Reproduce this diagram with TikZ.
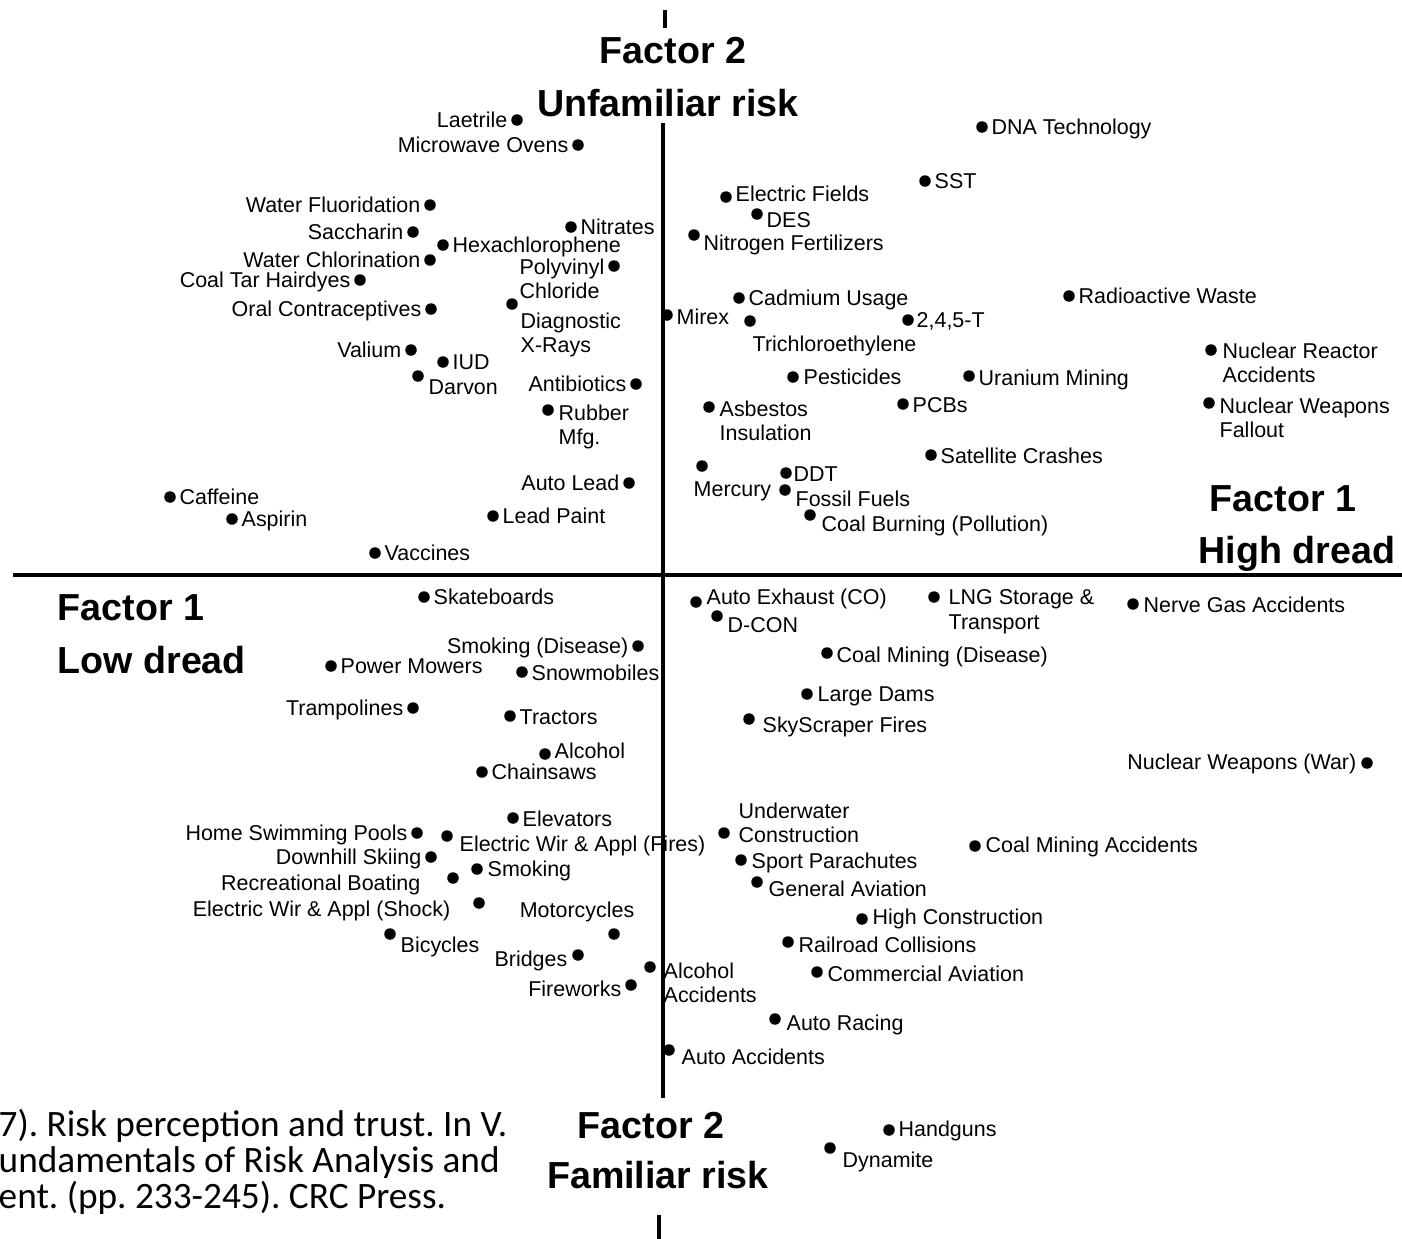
\documentclass[tikz,border=0pt]{standalone}
\usepackage{fontspec}
\setmainfont{Liberation Sans}
\newfontfamily\citefont{Carlito}
\usetikzlibrary{positioning}
\tikzset{
  dot/.style={circle, fill=black, inner sep=0pt, minimum size=1.15mm},
  lbl/.style={font=\fontsize{6.1}{7}\selectfont, inner sep=0pt, text height=1.55mm, text depth=0mm},
  lbltwo/.style={font=\fontsize{6.1}{7}\selectfont, inner sep=0pt, align=left},
  factor/.style={font=\fontsize{10.7}{12}\selectfont\bfseries, inner sep=0pt, text height=2.7mm, text depth=0mm},
  axis/.style={draw=black, line width=0.9pt}
}
\begin{document}
\frenchspacing
\begin{tikzpicture}[x=0.01cm, y=-0.01cm]
\useasboundingbox (0,0) rectangle (1402,1239);
% axes
\coordinate (W) at (13,575); \coordinate (E) at (1402,575);
\coordinate (N) at (663,123); \coordinate (S) at (663,1098);
\coordinate (N1) at (665,10); \coordinate (N2) at (665,28);
\coordinate (S1) at (659,1215); \coordinate (S2) at (659,1239);
\draw [axis] (W)--(E);
\draw [axis] (N)--(S);
\draw [axis] (N1)--(N2);
\draw [axis] (S1)--(S2);
% factor titles
\draw (673,50) node[factor](F2T){Factor 2}
(668,103) node[factor](UR){Unfamiliar risk}
(651,1125) node[factor](F2B){Factor 2}
(658,1175) node[factor](FR){Familiar risk}
(57,607) node[factor, anchor=west](F1L){Factor 1}
(57,660) node[factor, anchor=west](LD1){Low dread}
(1209,498) node[factor, anchor=west](F1R){Factor 1}
(1198,550) node[factor, anchor=west](HD){High dread};
% unfamiliar, low dread
\draw (517,120) node[dot](LA){} (508,120) node[lbl, anchor=east](LAt){Laetrile};
\draw (578,145) node[dot](MO){} (569,145) node[lbl, anchor=east](MOt){Microwave Ovens};
\draw (430,205) node[dot](WF){} (421,205) node[lbl, anchor=east](WFt){Water Fluoridation};
\draw (413,232) node[dot](SA){} (404,232) node[lbl, anchor=east](SAt){Saccharin};
\draw (443,245) node[dot](HX){} (452,245) node[lbl, anchor=west](HXt){Hexachlorophene};
\draw (430,260) node[dot](WC){} (421,260) node[lbl, anchor=east](WCt){Water Chlorination};
\draw (360,280) node[dot](CT){} (351,280) node[lbl, anchor=east](CTt){Coal Tar Hairdyes};
\draw (431,309) node[dot](OC){} (422,309) node[lbl, anchor=east](OCt){Oral Contraceptives};
\draw (571,227) node[dot](NI){} (580,227) node[lbl, anchor=west](NIt){Nitrates};
\draw (614,266) node[dot](PC){} (605,258) node[lbltwo, anchor=north east](PCt){Polyvinyl\\Chloride};
\draw (512,304) node[dot](DX){} (520,312) node[lbltwo, anchor=north west](DXt){Diagnostic\\X-Rays};
\draw (411,350) node[dot](VA){} (402,350) node[lbl, anchor=east](VAt){Valium};
\draw (443,362) node[dot](IU){} (452,362) node[lbl, anchor=west](IUt){IUD};
\draw (418,376) node[dot](DA){} (428,387) node[lbl, anchor=west](DAt){Darvon};
\draw (636,384) node[dot](AN){} (627,384) node[lbl, anchor=east](ANt){Antibiotics};
\draw (548,410) node[dot](RM){} (558,404) node[lbltwo, anchor=north west](RMt){Rubber\\Mfg.};
\draw (629,483) node[dot](AL){} (620,483) node[lbl, anchor=east](ALt){Auto Lead};
\draw (493,516) node[dot](LP){} (502,516) node[lbl, anchor=west](LPt){Lead Paint};
\draw (170,497) node[dot](CA){} (179,497) node[lbl, anchor=west](CAt){Caffeine};
\draw (232,519) node[dot](AS){} (241,519) node[lbl, anchor=west](ASt){Aspirin};
\draw (375,553) node[dot](VC){} (384,553) node[lbl, anchor=west](VCt){Vaccines};
% unfamiliar, high dread
\draw (982,127) node[dot](DN){} (991,127) node[lbl, anchor=west](DNt){DNA Technology};
\draw (925,181) node[dot](ST){} (934,181) node[lbl, anchor=west](STt){SST};
\draw (726,197) node[dot](EF){} (735,194) node[lbl, anchor=west](EFt){Electric Fields};
\draw (757,214) node[dot](DE){} (766,220) node[lbl, anchor=west](DEt){DES};
\draw (694,235) node[dot](NF){} (703,243) node[lbl, anchor=west](NFt){Nitrogen Fertilizers};
\draw (739,298) node[dot](CU){} (748,298) node[lbl, anchor=west](CUt){Cadmium Usage};
\draw (667,315) node[dot](MI){} (676,317) node[lbl, anchor=west](MIt){Mirex};
\draw (750,321) node[dot](TC){} (752,344) node[lbl, anchor=west](TCt){Trichloroethylene};
\draw (908,320) node[dot](TT){} (916,320) node[lbl, anchor=west](TTt){2,4,5-T};
\draw (1069,296) node[dot](RW){} (1078,296) node[lbl, anchor=west](RWt){Radioactive Waste};
\draw (1211,350) node[dot](NR){} (1222,342) node[lbltwo, anchor=north west](NRt){Nuclear Reactor\\Accidents};
\draw (793,377) node[dot](PE){} (803,377) node[lbl, anchor=west](PEt){Pesticides};
\draw (969,376) node[dot](UM){} (978,378) node[lbl, anchor=west](UMt){Uranium Mining};
\draw (709,407) node[dot](AB){} (719,400) node[lbltwo, anchor=north west](ABt){Asbestos\\Insulation};
\draw (903,404) node[dot](PB){} (912,405) node[lbl, anchor=west](PBt){PCBs};
\draw (1209,403) node[dot](NW){} (1219,397) node[lbltwo, anchor=north west](NWt){Nuclear Weapons\\Fallout};
\draw (931,455) node[dot](SC){} (940,456) node[lbl, anchor=west](SCt){Satellite Crashes};
\draw (702,466) node[dot](ME){} (693,489) node[lbl, anchor=west](MEt){Mercury};
\draw (786,473) node[dot](DD){} (793,474) node[lbl, anchor=west](DDt){DDT};
\draw (785,490) node[dot](FF){} (795,499) node[lbl, anchor=west](FFt){Fossil Fuels};
\draw (810,515) node[dot](CB){} (821,524) node[lbl, anchor=west](CBt){Coal Burning (Pollution)};
% familiar, low dread
\draw (424,597) node[dot](SK){} (433,597) node[lbl, anchor=west](SKt){Skateboards};
\draw (638,646) node[dot](SD){} (629,646) node[lbl, anchor=east](SDt){Smoking (Disease)};
\draw (331,666) node[dot](PM){} (340,666) node[lbl, anchor=west](PMt){Power Mowers};
\draw (522,672) node[dot](SN){} (531,673) node[lbl, anchor=west](SNt){Snowmobiles};
\draw (413,708) node[dot](TR){} (404,708) node[lbl, anchor=east](TRt){Trampolines};
\draw (510,716) node[dot](TA){} (519,717) node[lbl, anchor=west](TAt){Tractors};
\draw (545,754) node[dot](AC){} (554,751) node[lbl, anchor=west](ACt){Alcohol};
\draw (482,772) node[dot](CH){} (491,772) node[lbl, anchor=west](CHt){Chainsaws};
\draw (513,818) node[dot](EL){} (522,819) node[lbl, anchor=west](ELt){Elevators};
\draw (417,833) node[dot](HS){} (408,833) node[lbl, anchor=east](HSt){Home Swimming Pools};
\draw (447,836) node[dot](EW){} (459,844) node[lbl, anchor=west](EWt){Electric Wir \& Appl (Fires)};
\draw (431,857) node[dot](DS){} (422,857) node[lbl, anchor=east](DSt){Downhill Skiing};
\draw (477,869) node[dot](SM){} (487,869) node[lbl, anchor=west](SMt){Smoking};
\draw (453,878) node[dot](RB){} (421,883) node[lbl, anchor=east](RBt){Recreational Boating};
\draw (479,903) node[dot](ES){} (451,909) node[lbl, anchor=east](ESt){Electric Wir \& Appl (Shock)};
\draw (614,934) node[dot](MC){} (635,910) node[lbl, anchor=east](MCt){Motorcycles};
\draw (390,934) node[dot](BI){} (400,945) node[lbl, anchor=west](BIt){Bicycles};
\draw (578,955) node[dot](BR){} (568,959) node[lbl, anchor=east](BRt){Bridges};
\draw (631,985) node[dot](FW){} (622,989) node[lbl, anchor=east](FWt){Fireworks};
\draw (650,967) node[dot](AA){} (663,962) node[lbltwo, anchor=north west](AAt){Alcohol\\Accidents};
% familiar, high dread
\draw (696,602) node[dot](AE){} (706,597) node[lbl, anchor=west](AEt){Auto Exhaust (CO)};
\draw (717,616) node[dot](DC){} (727,625) node[lbl, anchor=west](DCt){D-CON};
\draw (934,597) node[dot](LN){} (948,589) node[lbltwo, anchor=north west](LNt){LNG Storage \&\\Transport};
\draw (1133,604) node[dot](NG){} (1143,605) node[lbl, anchor=west](NGt){Nerve Gas Accidents};
\draw (827,653) node[dot](CD){} (836,655) node[lbl, anchor=west](CDt){Coal Mining (Disease)};
\draw (807,694) node[dot](LD){} (817,694) node[lbl, anchor=west](LDt){Large Dams};
\draw (749,719) node[dot](SF){} (762,725) node[lbl, anchor=west](SFt){SkyScraper Fires};
\draw (1367,763) node[dot](NX){} (1357,762) node[lbl, anchor=east](NXt){Nuclear Weapons (War)};
\draw (724,833) node[dot](UC){} (738,802) node[lbltwo, anchor=north west](UCt){Underwater\\Construction};
\draw (975,846) node[dot](CM){} (985,845) node[lbl, anchor=west](CMt){Coal Mining Accidents};
\draw (741,860) node[dot](SP){} (751,861) node[lbl, anchor=west](SPt){Sport Parachutes};
\draw (757,882) node[dot](GA){} (768,889) node[lbl, anchor=west](GAt){General Aviation};
\draw (862,919) node[dot](HC){} (872,917) node[lbl, anchor=west](HCt){High Construction};
\draw (788,942) node[dot](RC){} (798,945) node[lbl, anchor=west](RCt){Railroad Collisions};
\draw (817,972) node[dot](CV){} (827,974) node[lbl, anchor=west](CVt){Commercial Aviation};
\draw (775,1019) node[dot](AR){} (786,1023) node[lbl, anchor=west](ARt){Auto Racing};
\draw (669,1050) node[dot](AD){} (681,1057) node[lbl, anchor=west](ADt){Auto Accidents};
\draw (889,1130) node[dot](HG){} (898,1129) node[lbl, anchor=west](HGt){Handguns};
\draw (830,1148) node[dot](DY){} (842,1160) node[lbl, anchor=west](DYt){Dynamite};
% source
\draw (-2,1109) node[anchor=north west, align=left, inner sep=0pt,
  font=\citefont\fontsize{10.6}{10.1}\selectfont](SRC){7). Risk perception and trust. In V.\\undamentals of Risk Analysis and\\ent. (pp. 233-245). CRC Press.};
\end{tikzpicture}
\end{document}
